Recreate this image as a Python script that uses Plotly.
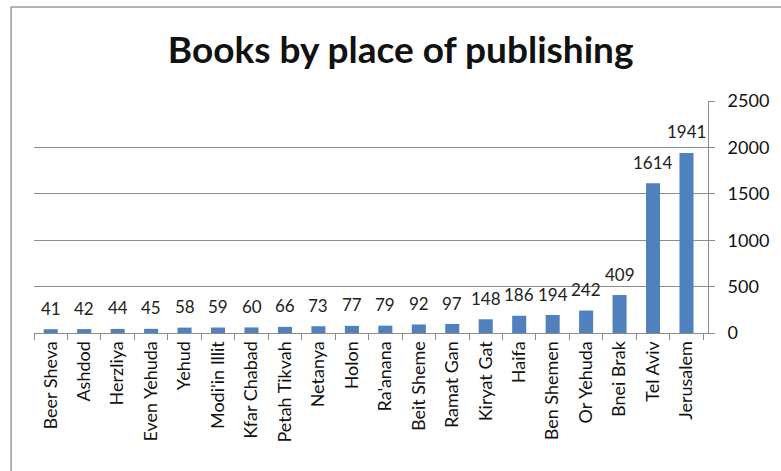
import plotly.graph_objects as go

places = ["Beer Sheva", "Ashdod", "Herzliya", "Even Yehuda", "Yehud", "Modi'in Illit",
          "Kfar Chabad", "Petah Tikvah", "Netanya", "Holon", "Ra'anana", "Beit Sheme",
          "Ramat Gan", "Kiryat Gat", "Haifa", "Ben Shemen", "Or Yehuda", "Bnei Brak",
          "Tel Aviv", "Jerusalem"]
books = [41, 42, 44, 45, 58, 59, 60, 66, 73, 77, 79, 92, 97, 148, 186, 194, 242, 409, 1614, 1941]
y_ticks = [0, 500, 1000, 1500, 2000, 2500]

BAR = "#4F81BD"
GRID = "#8c8c8c"
FONT = "Lato"

fig = go.Figure(go.Bar(x=places, y=books, marker=dict(color=BAR, line=dict(width=0)), width=0.42))

# value labels sit a little above each bar
for p, v in zip(places, books):
    fig.add_annotation(x=p, y=v, text=str(v), showarrow=False, yshift=21,
                       font=dict(family=FONT, size=17, color="#222222"))

fig.update_layout(
    width=781, height=471,
    margin=dict(l=34, r=73, t=101, b=138, autoexpand=False),
    paper_bgcolor="white", plot_bgcolor="white",
    showlegend=False,
    title=dict(text="<b>Books by place of publishing</b>", x=0.513, xanchor="center",
               y=0.893, yanchor="middle",
               font=dict(family="Lato", size=37, color="#111111")),
    xaxis=dict(
        type="category", tickangle=-90, tickson="boundaries", ticks="outside",
        ticklen=6, tickcolor=GRID, showline=True, linecolor=GRID, linewidth=1,
        showgrid=False, automargin=False,
        tickfont=dict(family=FONT, size=18, color="#111111"),
    ),
    yaxis=dict(
        side="right", range=[0, 2500], tickvals=y_ticks, ticks="outside", ticklen=6,
        tickcolor=GRID, showline=True, linecolor=GRID, linewidth=1,
        showgrid=True, gridcolor=GRID, gridwidth=1, zeroline=False, automargin=False,
        tickfont=dict(family=FONT, size=18, color="#111111"), ticklabelstandoff=9,
    ),
    shapes=[dict(type="rect", xref="paper", yref="paper",
                 x0=-0.034, x1=1.5, y0=-1.0, y1=1.405,
                 line=dict(color="#9a9a9a", width=1.5), fillcolor="rgba(0,0,0,0)",
                 layer="below")],
)

fig.write_html("out.html")
